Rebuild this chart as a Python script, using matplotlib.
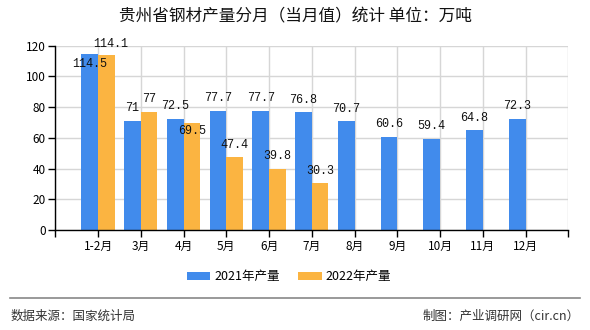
import numpy as np
import matplotlib
matplotlib.use("Agg")
import matplotlib.pyplot as plt

plt.rcParams['font.family'] = ['Noto Sans CJK SC', 'DejaVu Sans']

months = ["1-2月", "3月", "4月", "5月", "6月", "7月", "8月", "9月", "10月", "11月", "12月"]
prod2021 = [114.5, 71, 72.5, 77.7, 77.7, 76.8, 70.7, 60.6, 59.4, 64.8, 72.3]
prod2022 = [114.1, 77, 69.5, 47.4, 39.8, 30.3]
labels2021 = ["114.5", "71", "72.5", "77.7", "77.7", "76.8", "70.7", "60.6", "59.4", "64.8", "72.3"]
labels2022 = ["114.1", "77", "69.5", "47.4", "39.8", "30.3"]

blue = "#418bec"
orange = "#fbb441"
w = 0.39

fig = plt.figure(figsize=(5.9, 3.3), dpi=100)
ax = fig.add_axes([0.0937, 0.303, 0.8695, 0.5585])

x1 = np.arange(1, len(prod2021) + 1)
x2 = np.arange(1, len(prod2022) + 1)
ax.bar(x1 - w / 2, prod2021, w, color=blue, zorder=2, label="2021年产量")
ax.bar(x2 + w / 2, prod2022, w, color=orange, zorder=2, label="2022年产量")

# value labels (a few are pushed below the bar top to avoid overlap)
off1 = [-7.2] + [9] * 10
off2 = [7.5, 9, -5.5, 9, 9, 9]
dx2 = [3, 0, 0, 0, 0, 0]
for i in range(len(prod2021)):
    ax.annotate(labels2021[i], (x1[i] - w / 2, prod2021[i]), xytext=(0, off1[i]),
                textcoords="offset points", ha="center", va="center",
                family="Liberation Mono", fontsize=8.5, color="#111111", zorder=4)
for i in range(len(prod2022)):
    ax.annotate(labels2022[i], (x2[i] + w / 2, prod2022[i]), xytext=(dx2[i], off2[i]),
                textcoords="offset points", ha="center", va="center",
                family="Liberation Mono", fontsize=8.5, color="#111111", zorder=4)

ax.set_xlim(0, 12)
ax.set_ylim(0, 120)
ax.set_xticks(range(0, 13))
ax.set_xticklabels([""] + months + [""], fontsize=8.5)
ax.set_yticks(range(0, 121, 20))
ax.tick_params(axis="y", labelsize=8.5, length=5, width=1, pad=2)
ax.tick_params(axis="x", length=5, width=1, pad=2)
ax.grid(True, color="#d6d6d6", linewidth=1, zorder=0)
ax.spines["top"].set_visible(False)
ax.spines["right"].set_visible(False)
ax.spines["left"].set_linewidth(1)
ax.spines["bottom"].set_linewidth(1)

fig.text(0.5, 0.948, "贵州省钢材产量分月（当月值）统计 单位：万吨", ha="center", va="center",
         fontsize=12, color="#111111")

fig.legend(loc="center", bbox_to_anchor=(0.49, 0.161), ncol=2, frameon=False, fontsize=9,
           handlelength=1.9, handleheight=0.7, columnspacing=1.4, handletextpad=0.35)

fig.add_artist(plt.Line2D([0.017, 0.983], [0.097, 0.097], color="#888888", linewidth=1.2))
fig.text(0.017, 0.042, "数据来源：国家统计局", ha="left", va="center", fontsize=9, color="#333333")
fig.text(0.983, 0.042, "制图：产业调研网（cir.cn）", ha="right", va="center", fontsize=9, color="#333333")

fig.savefig("out.png", dpi=100)
